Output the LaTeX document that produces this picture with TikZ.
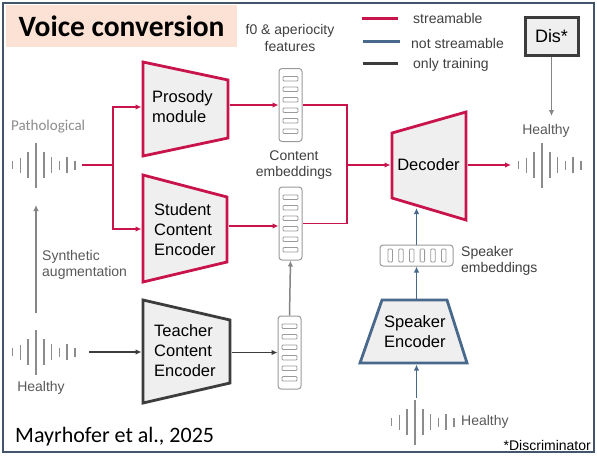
\documentclass[tikz,border=0pt]{standalone}
\usepackage{fontspec}
\setmainfont{Liberation Sans}
\newfontfamily\calfont{Carlito}
\usetikzlibrary{arrows.meta}
\definecolor{strm}{HTML}{C8144B}
\definecolor{nstrm}{HTML}{48698C}
\definecolor{trn}{HTML}{3C3C3C}
\definecolor{grayarr}{HTML}{858585}
\definecolor{peach}{HTML}{FBE2D5}
\definecolor{boxfill}{HTML}{EFEFEF}
\definecolor{framecol}{HTML}{44546A}
\definecolor{embgray}{HTML}{9A9A9A}
\definecolor{txtgray}{HTML}{595959}
\definecolor{lightgray}{HTML}{8C8C8C}
\definecolor{lbltxt}{HTML}{404040}
\newcommand\lblfnt{\fontsize{14}{16.5}\selectfont}
\newcommand\boxfnt{\fontsize{16.5}{20}\selectfont}
\begin{document}
\begin{tikzpicture}[x=1pt,y=-1pt,
  arr/.style={-{Latex[length=6pt,width=5.5pt]}},
  redln/.style={draw=strm,line width=1.8pt},
  blueln/.style={draw=nstrm,line width=1.8pt},
  darkln/.style={draw=trn,line width=1.8pt},
  grayln/.style={draw=grayarr,line width=1.5pt},
  trapbox/.style={fill=boxfill,line width=2.8pt,line join=miter},
  boxtxt/.style={font=\boxfnt,align=left,inner sep=0pt,text=black},
  lbl/.style={font=\lblfnt,align=center,inner sep=0pt,text=lbltxt},
  embcol/.style={draw=embgray,line width=1pt,rounded corners=3pt,minimum width=23pt,minimum height=73pt,inner sep=0pt,fill=white},
  embrow/.style={draw=embgray,line width=1pt,rounded corners=3pt,minimum width=73pt,minimum height=21pt,inner sep=0pt,fill=white},
  embin/.style={draw=embgray,line width=0.8pt,rounded corners=1pt},
  wavebar/.style={draw=lightgray,line width=1.6pt},
  waveform/.pic={\foreach \dx/\h in {-23.4/8,-15.6/15,-7.8/26,0/45,7.8/26,15.6/16,23.4/9,31.2/16,39/9}
     \draw[wavebar] (\dx,-\h/2) -- (\dx,\h/2);}
]
\useasboundingbox (0,0) rectangle (597,456);
\fill[white] (0,0) rectangle (597,456);
\draw[framecol,line width=2pt] (3,3) rectangle (594,452);

% title
\node[fill=peach,minimum width=231pt,minimum height=42pt,inner sep=0pt,font=\calfont\bfseries\fontsize{29.5}{32}\selectfont] (title) at (121.5,26) {Voice conversion};

% legend
\coordinate (lg1a) at (362,18); \coordinate (lg1b) at (398,18);
\coordinate (lg2a) at (363,41); \coordinate (lg2b) at (400,41);
\coordinate (lg3a) at (363,63); \coordinate (lg3b) at (398,63);
\draw[strm,line width=3pt] (lg1a) -- (lg1b);
\draw[nstrm,line width=3pt] (lg2a) -- (lg2b);
\draw[trn,line width=3pt] (lg3a) -- (lg3b);
\node[lbl,anchor=west] (lgt1) at (413,18) {streamable};
\node[lbl,anchor=west] (lgt2) at (411,43) {not streamable};
\node[lbl,anchor=west] (lgt3) at (413,65) {only training};

% discriminator
\node[draw=trn,line width=3pt,fill=boxfill,minimum width=53pt,minimum height=38pt,inner sep=0pt,font=\fontsize{18}{20}\selectfont] (dis) at (551.5,36) {Dis*};

% waveforms
\pic (wpath) at (36,165) {waveform};
\pic (wheal) at (36,352) {waveform};
\pic (wout) at (542,165) {waveform};
\pic (wspk) at (415,422) {waveform};

% labels
\node[anchor=west,inner sep=0pt,text=lightgray,font=\calfont\fontsize{15}{17}\selectfont] (pathlbl) at (11,127) {Pathological};
\node[lbl,anchor=west,align=left,text=txtgray] (synlbl) at (42,265) {Synthetic\\augmentation};
\node[lbl,text=txtgray] (heallbl) at (41,388) {Healthy};
\node[lbl,text=txtgray] (healr) at (546,131) {Healthy};
\node[lbl,anchor=west,text=txtgray] (healb) at (461,422) {Healthy};
\node[lbl,anchor=east,text=black] (discr) at (591,445) {*Discriminator};
\node[anchor=west,inner sep=0pt,font=\calfont\fontsize{22}{24}\selectfont] (cite) at (15,437) {Mayrhofer et al., 2025};
\node[lbl] (f0lbl) at (290,38) {f0 \& aperiocity\\features};
\node[lbl] (celbl) at (294,165) {Content\\embeddings};
\node[lbl,anchor=west,align=left] (selbl) at (461,261) {Speaker\\embeddings};

% trapezoids
\draw[trapbox,draw=strm] (143,62) -- (228,80) -- (228,138) -- (143,156) -- cycle;
\node[boxtxt,anchor=west] (pros) at (152,107) {Prosody\\module};
\draw[trapbox,draw=strm] (143,175) -- (227,197) -- (227,262) -- (143,282) -- cycle;
\node[boxtxt,anchor=west] (stud) at (154,230) {Student\\Content\\Encoder};
\draw[trapbox,draw=trn] (143,300) -- (230,320) -- (230,383) -- (143,403) -- cycle;
\node[boxtxt,anchor=west] (teach) at (154,351) {Teacher\\Content\\Encoder};
\draw[trapbox,draw=strm] (392,133) -- (466,112) -- (466,220) -- (392,198) -- cycle;
\node[boxtxt] (dec) at (428.5,165) {Decoder};
\draw[trapbox,draw=nstrm] (382,300) -- (447,300) -- (467,363) -- (360,363) -- cycle;
\node[boxtxt,anchor=west] (spkenc) at (384,331.5) {Speaker\\Encoder};

% embeddings
\node[embcol] (emb1) at (290.5,105) {};
\node[embcol] (emb2) at (290.5,223.5) {};
\node[embcol] (emb3) at (289.5,352.5) {};
\foreach \cx/\cy in {290.5/105,290.5/223.5,289.5/352.5}
  \foreach \k in {0,...,5}
    \draw[embin] (\cx-7.5,\cy-28.5+\k*10.5) rectangle ++(15,4.5);
\node[embrow] (spk) at (416.5,255.5) {};
\foreach \k in {0,...,5}
  \draw[embin] (416.5-28.5+\k*10.7,255.5-6.5) rectangle ++(4.5,13);

% connectors
\coordinate (pathout) at (82,165);
\coordinate (split) at (113,165);
\coordinate (prosin) at (141.5,107);
\coordinate (studin) at (141.5,229);
\draw[redln] (pathout) -- (split);
\draw[redln,arr] (split) |- (prosin);
\draw[redln,arr] (split) |- (studin);
\coordinate (prosout) at (229.5,105);
\draw[redln,arr] (prosout) -- (emb1.west);
\coordinate (studout) at (228.5,226);
\draw[redln,arr] (studout) -- (studout -| emb2.west);
\coordinate (mergex) at (347,165);
\draw[redln] (emb1.east) -| (mergex) |- (emb2.east);
\coordinate (decin) at (390.5,165);
\draw[redln,arr] (mergex) -- (decin);
\coordinate (decout) at (467.5,165);
\coordinate (rwavein) at (511,165);
\draw[redln,arr] (decout) -- (rwavein);
\coordinate (disend) at (551.5,116);
\draw[grayln,arr] (dis.south) -- (disend);
\coordinate (decbot) at (416.5,208);
\draw[blueln,arr] (spk.north) -- (decbot);
\coordinate (spkenctop) at (416.5,298.5);
\draw[blueln,arr] (spkenctop) -- (spk.south);
\coordinate (bwavetop) at (416.5,398);
\coordinate (spkencbot) at (416.5,364.5);
\draw[blueln,arr] (bwavetop) -- (spkencbot);
\coordinate (lhout) at (89,352);
\coordinate (teachin) at (141.5,352);
\draw[darkln,arr] (lhout) -- (teachin);
\coordinate (teachout) at (231.5,352.5);
\draw[darkln,arr] (teachout) -- (emb3.west);
\draw[grayln,arr] (emb3.north) -- (emb2.south);
\coordinate (synfrom) at (36,313);
\coordinate (synto) at (36,205);
\draw[grayln,arr] (synfrom) -- (synto);
\end{tikzpicture}
\end{document}
